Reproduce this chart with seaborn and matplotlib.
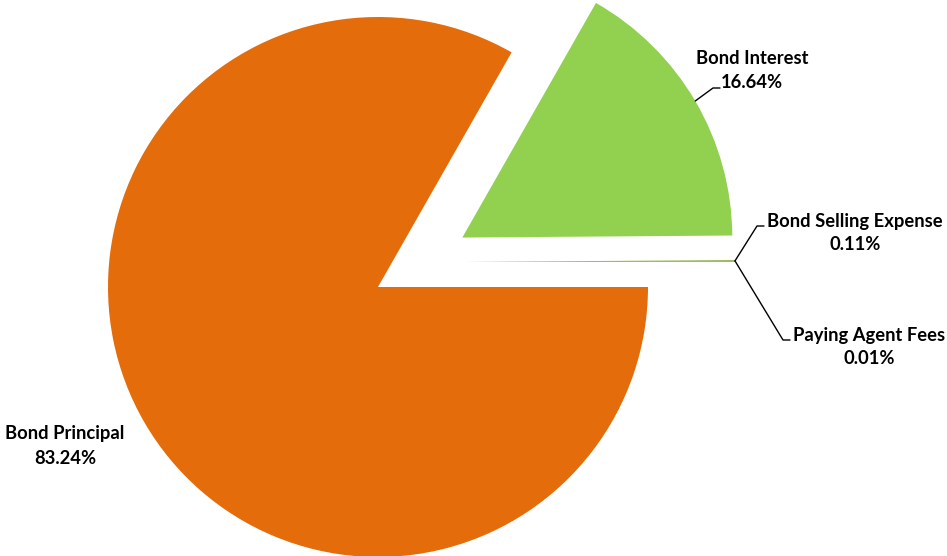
import matplotlib
matplotlib.use("Agg")
import matplotlib.pyplot as plt
import seaborn as sns
import numpy as np

# Cost breakdown of the bond issue (percent of total)
labels = ["Bond Principal", "Bond Interest", "Bond Selling Expense", "Paying Agent Fees"]
shares = [83.24, 16.64, 0.11, 0.01]
colors = ["#E46C0A", "#92D050", "#9BBB59", "#8064A2"]

sns.set_theme(style="white")
plt.rcParams["font.family"] = ["Lato", "DejaVu Sans"]

W, H = 947, 556
fig = plt.figure(figsize=(W / 100, H / 100), dpi=100)
ax = fig.add_axes([0, 0, 1, 1])

# pixel frame: pie centre at (378, 287), radius 270 px
R_PX, CX, CY = 270.0, 378.0, 287.0


def px(x, y):
    """Convert image-pixel position to data units of the pie axes."""
    return (x - CX) / R_PX, (CY - y) / R_PX


wedges, _ = ax.pie(
    shares,
    colors=colors,
    startangle=0,
    counterclock=False,
    explode=[0, 0.362, 0, 0],
    radius=1,
    wedgeprops=dict(linewidth=0, antialiased=True),
)

# the two tiny slices are pulled out together, right of the main pie
small_center = px(465, 262)
for w in wedges[2:]:
    w.set_center(small_center)

ax.set_xlim(px(0, 0)[0], px(W, 0)[0])
ax.set_ylim(px(0, H)[1], px(0, 0)[1])
ax.set_axis_off()


def arc_point(w):
    cx, cy = w.center
    mid = np.deg2rad((w.theta1 + w.theta2) / 2)
    return cx + w.r * np.cos(mid), cy + w.r * np.sin(mid)


txt_kw = dict(ha="center", va="center", fontsize=13.2, fontweight="bold",
              color="black", linespacing=1.5, multialignment="center")
lw = dict(color="black", lw=1.0)

# Bond Principal
ax.text(*px(65, 446), f"{labels[0]}\n{shares[0]:.2f}%", **txt_kw)

# Bond Interest with leader
a = arc_point(wedges[1])
k1, k2 = px(713, 88), px(720, 88)
ax.plot([a[0], k1[0], k2[0]], [a[1], k1[1], k2[1]], **lw)
ax.text(*px(752, 70), f"{labels[1]}\n{shares[1]:.2f}%", **txt_kw)

# tiny slices share one anchor on their outer arc
a = arc_point(wedges[2])
k1, k2 = px(757, 226), px(764, 226)
ax.plot([a[0], k1[0], k2[0]], [a[1], k1[1], k2[1]], **lw)
ax.text(*px(855, 233), f"{labels[2]}\n{shares[2]:.2f}%", **txt_kw)

k1, k2 = px(783, 340), px(790, 340)
ax.plot([a[0], k1[0], k2[0]], [a[1], k1[1], k2[1]], **lw)
ax.text(*px(869, 347), f"{labels[3]}\n{shares[3]:.2f}%", **txt_kw)

fig.savefig("out.png", dpi=100, facecolor="white")
